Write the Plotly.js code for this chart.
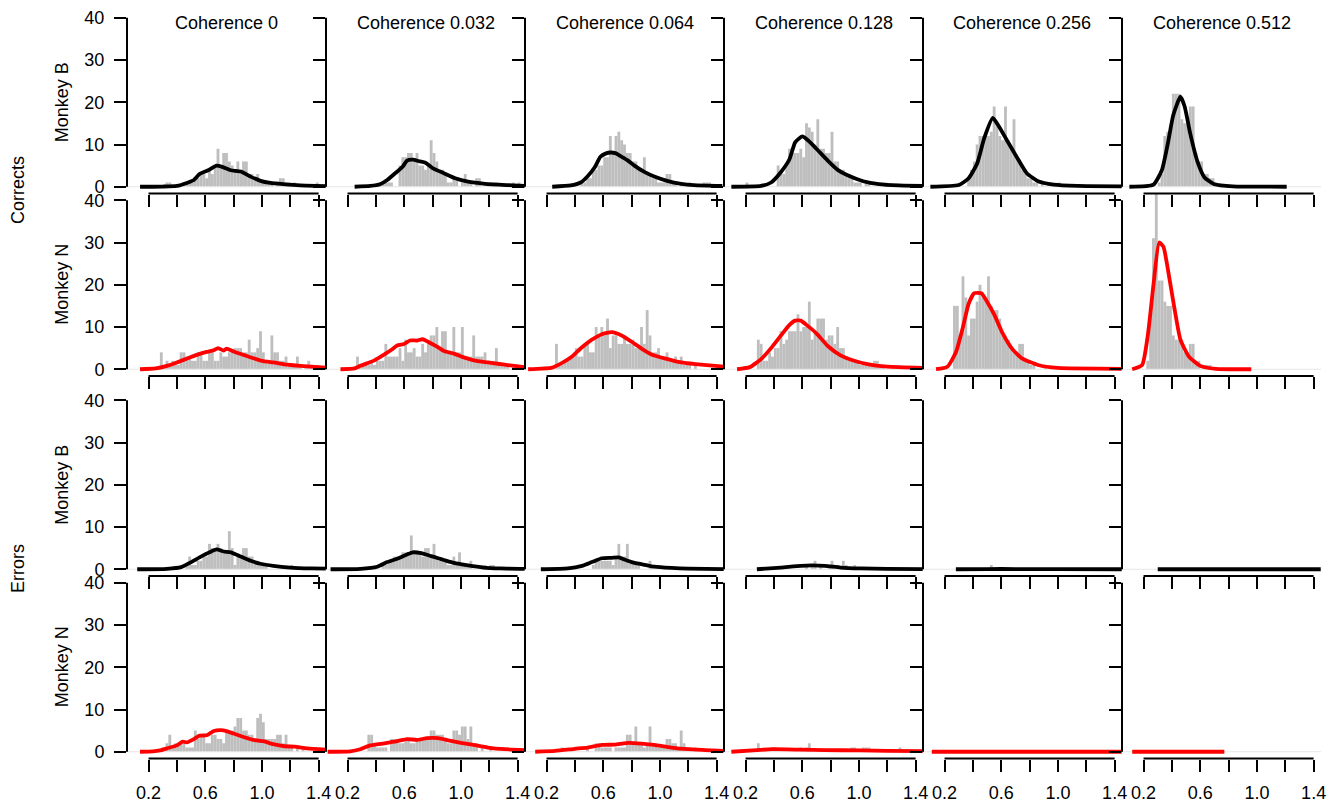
<!DOCTYPE html>
<html><head><meta charset="utf-8">
<script src="https://cdn.plot.ly/plotly-3.0.1.min.js"></script>
<style>html,body{margin:0;padding:0;background:#fff}#chart{width:1338px;height:805px}</style>
</head><body><div id="chart"></div>
<script>
// ---------------- DATA ----------------
const coherences = ["0","0.032","0.064","0.128","0.256","0.512"];
const rowLabels = ["Monkey B","Monkey N","Monkey B","Monkey N"];
const groupLabels = ["Corrects","Errors"];
const xTickVals = [0.2,0.4,0.6,0.8,1.0,1.2,1.4];
const xTickText = ["0.2","","0.6","","1.0","","1.4"];
const yTickVals = [0,10,20,30,40];
const yTickText = ["0","10","20","30","40"];
const binWidth = 0.02;

// Corrects - Monkey B
const corrB_histStart = [0.32,0.42,0.44,0.20,0.36,0.30];
const corrB_hist = [
 [1,1,0,0,0,0,1,1,1,1,2,2,3,3,2,4,3,5,9,5,8,8,6,5,4,6,4,6,6,3,3,2,3,1,1,1,1,1,0,1,2,2,1,1,0,1,0,0,0,0,0,0,0,1],
 [1,1,1,1,1,0,0,5,7,7,8,8,6,8,5,5,4,5,11,8,6,4,4,3,1,1,2,2,0,1,3,1,1,0,2,2,0,0,1,1,1,1,0,0,0,0,0,1,0,1],
 [1,1,2,2,4,4,5,5,7,7,12,8,12,13,11,10,8,8,6,6,4,4,7,3,3,2,2,1,1,1,3,3,1,1,0,1,0,0,1,0,0,0,0,1,1,1],
 [1,0,0,0,0,0,0,0,0,0,0,5,3,3,5,9,9,8,8,9,7,15,14,13,10,16,9,9,8,8,13,6,6,4,4,3,3,2,1,1,1,0,1,1,0,0,0,0,0,1],
 [2,4,6,10,12,12,13,12,13,19,15,12,11,19,10,9,16,7,6,4,3,2,2,1,1,0,1,0,0,0,0,0,1],
 [1,3,12,13,13,22,22,22,16,15,15,19,19,8,6,6,3,3,2,2,1]
];
const corrB_curveX = [
 [0.14,0.30,0.40,0.47,0.52,0.56,0.62,0.68,0.72,0.78,0.85,0.92,0.99,1.06,1.15,1.27,1.45],
 [0.25,0.36,0.43,0.48,0.54,0.59,0.62,0.66,0.71,0.75,0.80,0.88,0.96,1.05,1.17,1.32,1.45],
 [0.24,0.37,0.44,0.49,0.54,0.58,0.62,0.65,0.69,0.72,0.77,0.82,0.89,0.96,1.05,1.15,1.24,1.44],
 [0.10,0.31,0.38,0.45,0.51,0.55,0.60,0.64,0.70,0.78,0.85,0.92,1.03,1.14,1.28,1.45],
 [0.10,0.30,0.37,0.43,0.48,0.54,0.58,0.64,0.71,0.78,0.86,0.97,1.14,1.45],
 [0.10,0.27,0.33,0.37,0.41,0.46,0.49,0.53,0.58,0.63,0.70,0.83,1.21]
];
const corrB_curveY = [
 [0,0.05,0.2,0.9,1.6,3.0,3.9,5.0,4.7,3.9,3.6,2.4,1.4,0.9,0.6,0.3,0.15],
 [0,0.2,0.6,1.6,3.3,4.8,6.2,6.4,6.0,5.7,4.4,3.2,2.0,1.2,0.7,0.4,0.2],
 [0,0.3,1.0,2.5,4.6,7.1,7.9,8.1,7.9,7.3,6.3,5.0,3.5,2.4,1.4,0.7,0.4,0.2],
 [0,0.2,1.0,3.5,6.5,10.5,11.9,11.0,9.0,6.2,4.0,2.7,1.3,0.6,0.3,0.2],
 [0,0.4,2.0,5.5,11.5,16.3,14.5,11,7,3.2,1.3,0.5,0.2,0.1],
 [0,0.5,4,10,17,21.3,19,12.5,6,2.2,0.6,0.1,0]
];

// Corrects - Monkey N
const corrN_histStart = [0.26,0.24,0.26,0.26,0.26,0.22];
const corrN_hist = [
 [0,4,1,2,1,2,2,1,4,4,3,3,2,2,4,4,2,2,4,4,2,2,4,3,3,4,4,5,5,5,4,4,7,4,4,5,9,4,2,2,8,4,4,2,2,3,1,1,1,3,1,0,1,2,1,0,1],
 [0,3,1,1,1,1,2,1,2,2,2,6,3,3,3,3,5,2,7,4,4,5,3,3,6,4,7,8,8,10,5,9,9,4,4,10,4,4,10,3,3,3,8,3,3,3,4,2,2,2,5,1,1,1,1,0,1],
 [6,1,1,2,2,3,3,5,3,3,6,6,4,4,10,8,10,8,12,5,8,8,6,6,8,6,6,7,5,5,10,6,14,8,4,4,5,3,3,4,2,2,3,2,3,1,1,1,0,1],
 [0,7,6,2,2,4,3,5,5,9,6,7,9,9,9,13,9,10,10,16,7,9,12,12,12,7,8,8,6,10,5,5,3,2,2,2,2,1,1,1,1,1,2,2,1,1],
 [15,15,8,22,17,8,12,12,16,20,17,17,22,15,14,14,12,8,8,7,5,4,4,6,6,2,2,1,1,0,0,0,1],
 [2,14,31,42,21,21,16,15,15,8,7,7,7,4,4,6,6,2,2,0,1,1,1]
];
const corrN_curveX = [
 [0.14,0.25,0.33,0.40,0.47,0.54,0.61,0.66,0.69,0.73,0.75,0.80,0.87,0.94,1.01,1.08,1.18,1.27,1.45],
 [0.15,0.25,0.29,0.39,0.46,0.51,0.55,0.60,0.64,0.69,0.73,0.79,0.84,0.88,0.95,1.02,1.09,1.19,1.26,1.33,1.45],
 [0.07,0.24,0.31,0.38,0.45,0.52,0.59,0.66,0.73,0.80,0.87,0.94,1.04,1.15,1.25,1.45],
 [0.14,0.23,0.31,0.38,0.45,0.51,0.55,0.59,0.63,0.70,0.78,0.87,0.95,1.06,1.20,1.45],
 [0.14,0.22,0.28,0.33,0.37,0.41,0.46,0.50,0.55,0.61,0.68,0.75,0.86,1.00,1.45],
 [0.12,0.19,0.23,0.27,0.31,0.34,0.38,0.42,0.46,0.52,0.60,0.71,0.96]
];
const corrN_curveY = [
 [0,0.2,0.8,1.6,2.5,3.4,4.1,4.5,5.0,4.4,4.9,4.2,3.4,2.6,1.9,1.6,1.1,0.8,0.4],
 [0,0.2,0.8,2.1,3.5,4.6,5.6,6.0,6.8,6.8,7.1,6.1,5.2,4.3,3.7,2.8,2.1,1.6,1.3,1.0,0.5],
 [0,0.4,1.5,3.0,5.2,7.0,8.3,8.8,8.0,6.5,4.9,3.5,2.5,1.6,1.2,0.6],
 [0,0.5,2.4,5.0,8.0,10.5,11.5,11.5,10.5,8.5,5.5,3.3,2.2,1.2,0.6,0.3],
 [0,0.6,4,10,15.5,18,18,16,13,8.5,4.7,2.5,1.0,0.3,0.1],
 [0,1,8,20,30,29,22,14,7,3,0.8,0.1,0]
];

// Errors - Monkey B
const errB_histStart = [0.46,0.44,0.52,0.60,0.52,0.50];
const errB_hist = [
 [1,3,1,1,2,2,3,3,6,5,5,6,5,4,4,9,5,1,3,3,5,5,3,3,2,2,1,1,1,0,0,0,0,0,0,0,0,1],
 [1,1,2,2,3,3,3,4,4,4,8,4,4,4,3,5,5,3,6,3,2,2,2,1,1,3,1,4,1,1,1,2,0,0,0,1,1,0,1,1],
 [1,2,2,2,2,2,2,1,3,6,3,3,6,2,2,1,1,0,0,0,2],
 [0,1,0,1,2,0,1,0,0,1,2,0,1,0,2,1,0,0,1],
 [1],
 []
];
const errB_curveX = [
 [0.12,0.33,0.43,0.49,0.56,0.63,0.68,0.73,0.78,0.85,0.92,0.99,1.08,1.20,1.35,1.45],
 [0.08,0.29,0.41,0.48,0.55,0.62,0.66,0.72,0.79,0.84,0.88,0.95,1.05,1.16,1.28,1.45],
 [0.16,0.35,0.45,0.52,0.59,0.66,0.71,0.75,0.80,0.87,0.96,1.08,1.20,1.45],
 [0.28,0.45,0.59,0.67,0.76,0.87,1.01,1.20,1.45],
 [0.28,0.50,0.70,1.00,1.45],
 [0.30,0.60,1.00,1.45]
];
const errB_curveY = [
 [0,0.1,0.5,1.5,2.8,4.0,4.7,4.2,4.0,3.0,2.0,1.3,0.8,0.4,0.2,0.15],
 [0,0.1,0.6,1.7,2.5,3.5,4.0,3.8,3.1,2.6,2.2,1.5,0.9,0.4,0.2,0.1],
 [0,0.2,0.8,1.7,2.6,2.7,2.8,2.3,1.7,1.2,0.6,0.3,0.15,0.05],
 [0,0.4,0.8,0.9,0.8,0.4,0.2,0.1,0.05],
 [0,0.05,0.05,0.02,0],
 [0,0,0,0]
];

// Errors - Monkey N
const errN_histStart = [0.32,0.34,0.30,0.26,0.50,0.50];
const errN_hist = [
 [2,4,1,2,2,2,2,1,1,1,5,3,4,4,2,2,4,4,3,3,2,5,5,5,6,8,8,5,5,4,4,3,8,9,7,3,3,3,3,4,4,2,4,1,1,0,1,0,1],
 [4,4,2,1,1,1,1,0,3,3,3,2,2,3,3,2,2,3,3,3,3,3,5,5,4,4,4,3,2,2,5,5,4,6,6,3,6,2,2,0,1,0,0,1],
 [1,0,0,0,0,0,0,0,0,1,0,0,2,2,1,1,1,1,0,1,1,1,1,4,4,2,6,2,2,1,2,6,2,2,1,1,1,3,3,2,2,1,5,2,1,1,0,1],
 [0,2,0,0,0,0,1,1,0,0,0,0,0,0,0,0,1,0,1,2,0,0,0,0,0,0,0,0,0,0,0,0,0,0,1,1,0,0,1,1,1,0,0,0,0,0,0,0,0,0,0,1],
 [],
 []
];
const errN_curveX = [
 [0.14,0.23,0.28,0.33,0.40,0.44,0.47,0.52,0.56,0.61,0.66,0.71,0.75,0.80,0.87,0.94,1.01,1.08,1.16,1.23,1.32,1.45],
 [0.06,0.22,0.29,0.36,0.46,0.55,0.62,0.69,0.76,0.84,0.91,1.00,1.09,1.19,1.31,1.45],
 [0.12,0.26,0.40,0.49,0.59,0.68,0.78,0.87,0.96,1.08,1.20,1.32,1.45],
 [0.10,0.28,0.39,0.59,0.76,1.01,1.20,1.45],
 [0.11,0.60,1.00,1.45],
 [0.12,0.40,0.60,0.77]
];
const errN_curveY = [
 [0,0.1,0.3,0.8,1.5,2.4,2.2,3.0,3.8,3.9,4.9,5.1,4.9,4.3,3.5,2.8,2.5,1.8,1.3,1.2,0.8,0.5],
 [0,0.1,0.6,1.5,2.0,2.5,3.0,2.8,3.2,3.2,2.7,2.1,1.6,1.0,0.6,0.4],
 [0,0.2,0.7,1.0,1.6,1.7,2.1,1.9,1.6,1.0,0.6,0.4,0.2],
 [0,0.4,0.6,0.5,0.4,0.3,0.2,0.15],
 [0,0,0,0],
 [0,0,0,0]
];

// ---------------- LAYOUT ----------------
const W = 1338, H = 805;
const colLeft0 = 127, colW = 199;
const rowTop = [11, 193.5, 393.5, 576], rowH = 182.5;
const xRange = [0.048, 1.452], yRange = [-1.6, 41.6];
const FONT = 'Liberation Sans, Arial, Helvetica, sans-serif';
const rows = [
  {start: corrB_histStart, hist: corrB_hist, cx: corrB_curveX, cy: corrB_curveY, color: '#000000'},
  {start: corrN_histStart, hist: corrN_hist, cx: corrN_curveX, cy: corrN_curveY, color: '#FF0000'},
  {start: errB_histStart,  hist: errB_hist,  cx: errB_curveX,  cy: errB_curveY,  color: '#000000'},
  {start: errN_histStart,  hist: errN_hist,  cx: errN_curveX,  cy: errN_curveY,  color: '#FF0000'}
];

const data = [];
const layout = {
  width: W, height: H,
  margin: {l: 0, r: 0, t: 0, b: 0},
  paper_bgcolor: '#ffffff', plot_bgcolor: 'rgba(0,0,0,0)',
  showlegend: false, hovermode: false, barmode: 'overlay',
  font: {family: FONT, size: 18, color: '#000'},
  shapes: [], annotations: []
};

for (let r = 0; r < 4; r++) {
  const R = rows[r];
  for (let c = 0; c < 6; c++) {
    const k = r * 6 + c + 1;
    const sfx = k > 1 ? String(k) : '';
    const xa = 'x' + sfx, ya = 'y' + sfx;
    const x0 = colLeft0 + c * colW;
    layout['xaxis' + sfx] = {
      domain: [x0 / W, (x0 + colW) / W], range: xRange, anchor: ya,
      tickmode: 'array', tickvals: xTickVals, ticktext: xTickText,
      ticks: 'outside', ticklen: 12, tickwidth: 2, tickcolor: '#000',
      showticklabels: r === 3, tickfont: {family: FONT, size: 18, color: '#000'},
      ticklabelstandoff: 6,
      showgrid: false, zeroline: false, showline: false, fixedrange: true
    };
    layout['yaxis' + sfx] = {
      domain: [1 - (rowTop[r] + rowH) / H, 1 - rowTop[r] / H], range: yRange, anchor: xa,
      tickmode: 'array', tickvals: yTickVals, ticktext: yTickText,
      ticks: 'outside', ticklen: 12, tickwidth: 2, tickcolor: '#000',
      showticklabels: c === 0, tickfont: {family: FONT, size: 18, color: '#000'},
      ticklabelstandoff: 6,
      showgrid: false, zeroline: false, showline: false, fixedrange: true
    };
    // histogram bars
    const counts = R.hist[c];
    const bx = counts.map((v, i) => +(R.start[c] + binWidth * (i + 0.5)).toFixed(4));
    data.push({type: 'bar', x: bx, y: counts, width: binWidth, xaxis: xa, yaxis: ya,
      marker: {color: '#BEBEBE', line: {width: 0}}, hoverinfo: 'skip'});
    // faint baseline
    data.push({type: 'scatter', mode: 'lines', x: xRange, y: [0, 0], xaxis: xa, yaxis: ya,
      line: {color: '#E6E6E6', width: 1}, hoverinfo: 'skip'});
    // density curve
    data.push({type: 'scatter', mode: 'lines', x: R.cx[c], y: R.cy[c], xaxis: xa, yaxis: ya,
      line: {color: R.color, width: 3.8, shape: 'spline', smoothing: 0.5}, hoverinfo: 'skip'});
    // axis lines (R style: span first to last tick)
    layout.shapes.push({type: 'line', xref: xa + ' domain', yref: ya, x0: 0, x1: 0,
      y0: yTickVals[0], y1: yTickVals[yTickVals.length - 1], line: {color: '#000', width: 2}});
    layout.shapes.push({type: 'line', xref: xa, yref: ya + ' domain', y0: 0, y1: 0,
      x0: xTickVals[0], x1: xTickVals[xTickVals.length - 1], line: {color: '#000', width: 2}});
    if (r === 0) {
      layout.annotations.push({xref: xa + ' domain', x: 0.5, yref: 'paper', y: 1 - 23 / H,
        xanchor: 'center', yanchor: 'middle', showarrow: false,
        text: 'Coherence ' + coherences[c], font: {family: FONT, size: 18, color: '#000'}});
    }
    if (c === 0) {
      layout.annotations.push({xref: 'paper', x: 62 / W, yref: ya, y: 20,
        xanchor: 'center', yanchor: 'middle', showarrow: false, textangle: -90,
        text: rowLabels[r], font: {family: FONT, size: 18, color: '#000'}});
    }
  }
}
layout.annotations.push({xref: 'paper', x: 18 / W, yref: 'paper', y: 1 - 190 / H,
  xanchor: 'center', yanchor: 'middle', showarrow: false, textangle: -90,
  text: groupLabels[0], font: {family: FONT, size: 18, color: '#000'}});
layout.annotations.push({xref: 'paper', x: 18 / W, yref: 'paper', y: 1 - 569 / H,
  xanchor: 'center', yanchor: 'middle', showarrow: false, textangle: -90,
  text: groupLabels[1], font: {family: FONT, size: 18, color: '#000'}});

Plotly.newPlot('chart', data, layout, {displayModeBar: false, staticPlot: true});
</script>
</body></html>
